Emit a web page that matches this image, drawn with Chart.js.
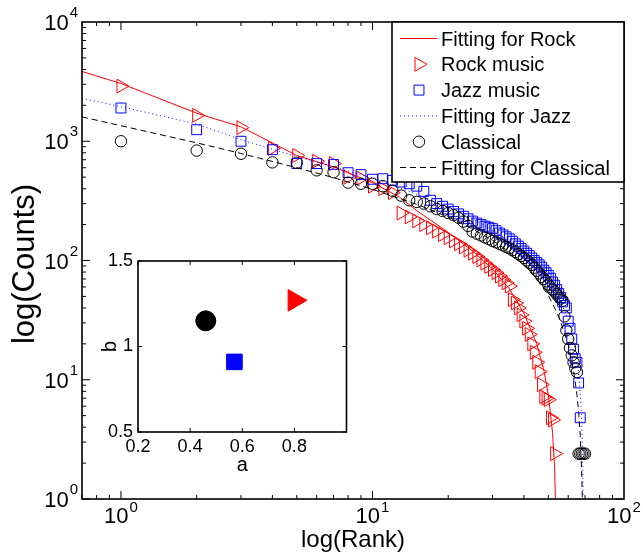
<!DOCTYPE html>
<html>
<head>
<meta charset="utf-8">
<script src="https://cdn.jsdelivr.net/npm/chart.js@4.4.1/dist/chart.umd.min.js"></script>
<style>
  html, body { margin: 0; padding: 0; background: #fff; }
  #wrap { position: relative; width: 643px; height: 556px; }
  #main { position: absolute; left: 0; top: 0; }
  #inset { position: absolute; left: 90px; top: 240px; }
</style>
</head>
<body>
<div id="wrap">
  <canvas id="main" width="643" height="556"></canvas>
  <canvas id="inset" width="270" height="240"></canvas>
</div>
<script>
// counts per rank (rank = position in the array, starting at 1)
const rockCounts = [2900, 1650, 1300, 870, 760, 680, 650, 500, 490, 420,
  400, 370, 250, 232, 215, 200, 188, 176, 165, 155,
  146, 138, 130, 122, 115, 108, 101, 95, 89, 84,
  79, 74, 69, 65, 61, 47, 44, 40, 35, 31,
  27, 24, 20, 17, 14, 11.7, 9.1, 7.2, 7.0, 6.8,
  4.8, 4.6, 2.4];
const jazzCounts = [1900, 1250, 1000, 850, 650, 650, 640, 545, 525, 480,
  485, 470, 455, 440, 420, 380, 320, 300, 285, 270,
  258, 246, 235, 224, 214, 206, 200, 194, 190, 185,
  178, 170, 164, 158, 152, 145, 138, 132, 126, 120,
  115, 110, 105, 100, 96, 92, 88, 83, 79, 75,
  71, 66, 62, 57, 53, 49, 45, 42, 40, 31,
  27, 22, 18, 15, 14, 9.4, 4.8];
const classicalCounts = [1000, 835, 785, 665, 660, 570, 550, 450, 440, 440,
  420, 385, 350, 320, 310, 300, 285, 270, 260, 250,
  240, 228, 212, 195, 175, 168, 162, 156, 151, 146,
  142, 138, 134, 130, 127, 122, 118, 113, 109, 105,
  100, 96, 92, 87, 82, 78, 73, 70, 67, 63,
  60, 57, 55, 52, 50, 48, 46, 34, 26, 22,
  18.5, 16, 14, 12.5, 11.6, 2.4, 2.4, 2.4, 2.4, 2.4];

// fitted curves
const rockFitRank = [0.7, 1, 2, 3, 5, 7, 10, 12.8, 15, 20, 25, 30, 35, 40, 45, 48, 50, 52, 53, 53.5];
const rockFitCounts = [3850, 3050, 1720, 1320, 760, 610, 450, 340, 262, 172, 120, 85, 58, 36, 20, 12, 7.5, 3.6, 1.8, 0.8];
const jazzFitRank = [0.7, 1, 2, 3, 5, 7, 10, 15, 20, 25, 30, 35, 40, 45, 50, 55, 60, 63, 65, 66, 67, 67.5, 68, 68.5, 68.8];
const jazzFitCounts = [2290, 1950, 1395, 1030, 745, 610, 492, 360, 279, 224, 180, 146, 117, 92, 70, 50, 32, 21.5, 14.6, 11.2, 7.7, 5.9, 4.1, 2.2, 0.9];
const classicalFitRank = [0.7, 1, 2, 3, 5, 7, 10, 15, 20, 25, 30, 35, 40, 45, 50, 55, 60, 63, 65, 66, 67, 68, 68.5];
const classicalFitCounts = [1600, 1350, 970, 790, 600, 495, 395, 296, 232, 184, 148, 118, 92, 70, 51, 34, 20, 12, 7.5, 5.4, 3.4, 1.5, 0.7];

// inset: fitted parameters a, b  (rock, jazz, classical)
const paramA = [0.8, 0.57, 0.46];
const paramB = [1.27, 0.91, 1.15];

const xTickExps = [0, 1, 2];
const yTickExps = [0, 1, 2, 3, 4];
const insetXTicks = [0.2, 0.4, 0.6, 0.8];
const insetYTicks = [0.5, 1, 1.5];

const FONT = '"Liberation Sans", Arial, Helvetica, sans-serif';
const RED = '#ff0000', BLUE = '#0000ff', BLACK = '#000000';

function ranked(counts) {
  return counts.map((c, i) => ({x: i + 1, y: c}));
}
function pairs(xs, ys) {
  return xs.map((x, i) => ({x: x, y: ys[i]}));
}

function markerPath(ctx, style, x, y, r) {
  ctx.beginPath();
  if (style === 'triangle') {
    ctx.moveTo(x + r, y);
    ctx.lineTo(x - r / 2, y - r * Math.sqrt(3) / 2);
    ctx.lineTo(x - r / 2, y + r * Math.sqrt(3) / 2);
    ctx.closePath();
  } else if (style === 'rect') {
    const s = r * Math.SQRT2;
    ctx.rect(x - s / 2, y - s / 2, s, s);
  } else {
    ctx.arc(x, y, r, 0, Math.PI * 2);
  }
}

function drawPow(ctx, x, base, exp, align, supUp) {
  ctx.font = '22px ' + FONT;
  const w10 = ctx.measureText('10').width;
  ctx.font = '15px ' + FONT;
  const we = ctx.measureText(String(exp)).width;
  const total = w10 + 1 + we;
  const left = align === 'right' ? x - total : x - total / 2;
  ctx.textAlign = 'left';
  ctx.textBaseline = 'alphabetic';
  ctx.font = '22px ' + FONT;
  ctx.fillText('10', left, base);
  ctx.font = '15px ' + FONT;
  ctx.fillText(String(exp), left + w10 + 1, base - supUp);
}

const mainFrame = {
  id: 'mainFrame',
  afterDraw(chart) {
    const ctx = chart.ctx;
    const a = chart.chartArea;
    const xs = chart.scales.x, ys = chart.scales.y;
    ctx.save();
    ctx.strokeStyle = BLACK;
    ctx.fillStyle = BLACK;
    ctx.lineWidth = 1;
    // minor + major ticks, inward, on all four sides
    for (let e = -1; e <= 1; e++) {
      for (let m = 1; m <= 9; m++) {
        const v = m * Math.pow(10, e);
        if (v < xs.min || v > xs.max) continue;
        const px = xs.getPixelForValue(v);
        const len = m === 1 ? 8 : 4;
        ctx.beginPath();
        ctx.moveTo(px, a.bottom); ctx.lineTo(px, a.bottom - len);
        ctx.moveTo(px, a.top); ctx.lineTo(px, a.top + len);
        ctx.stroke();
      }
    }
    for (let e = 0; e <= 3; e++) {
      for (let m = 1; m <= 9; m++) {
        const v = m * Math.pow(10, e);
        const py = ys.getPixelForValue(v);
        const len = m === 1 ? 8 : 4;
        ctx.beginPath();
        ctx.moveTo(a.left, py); ctx.lineTo(a.left + len, py);
        ctx.moveTo(a.right, py); ctx.lineTo(a.right - len, py);
        ctx.stroke();
      }
    }
    ctx.lineWidth = 1.6;
    ctx.strokeRect(a.left, a.top, a.right - a.left, a.bottom - a.top);

    // tick labels
    xTickExps.forEach(e => {
      drawPow(ctx, xs.getPixelForValue(Math.pow(10, e)), a.bottom + 24, e, 'center', 11);
    });
    yTickExps.forEach(e => {
      drawPow(ctx, a.left - 4, ys.getPixelForValue(Math.pow(10, e)) + 8, e, 'right', 13);
    });

    // axis titles
    ctx.textAlign = 'center';
    ctx.textBaseline = 'alphabetic';
    ctx.font = '24px ' + FONT;
    ctx.fillText('log(Rank)', (a.left + a.right) / 2, 547);
    ctx.save();
    ctx.translate(34, 264);
    ctx.rotate(-Math.PI / 2);
    ctx.font = '31px ' + FONT;
    ctx.fillText('log(Counts)', 0, 0);
    ctx.restore();

    // legend box
    const bx = 392, by = a.top, bw = a.right - 392, bh = 160;
    ctx.fillStyle = '#ffffff';
    ctx.fillRect(bx, by, bw, bh);
    ctx.lineWidth = 1.6;
    ctx.strokeStyle = BLACK;
    ctx.strokeRect(bx, by, bw, bh);
    chart.data.datasets.forEach((ds, i) => {
      const cy = 38.5 + i * 25.8;
      ctx.strokeStyle = ds.borderColor;
      ctx.lineWidth = 1;
      if (ds.showLine) {
        ctx.setLineDash(ds.borderDash || []);
        ctx.beginPath();
        ctx.moveTo(400, cy); ctx.lineTo(437, cy);
        ctx.stroke();
        ctx.setLineDash([]);
      } else {
        markerPath(ctx, ds.pointStyle, 419, cy, ds.pointRadius);
        ctx.stroke();
      }
      ctx.fillStyle = BLACK;
      ctx.font = '20px ' + FONT;
      ctx.textAlign = 'left';
      ctx.fillText(ds.label, 441, cy + 7);
    });
    ctx.restore();
  }
};

new Chart(document.getElementById('main'), {
  type: 'scatter',
  data: {
    datasets: [
      {label: 'Fitting for Rock', data: pairs(rockFitRank, rockFitCounts), showLine: true,
       borderColor: RED, borderWidth: 1, pointRadius: 0, tension: 0, order: 6},
      {label: 'Rock music', data: ranked(rockCounts), showLine: false, pointStyle: 'triangle',
       pointRotation: 90, pointRadius: 8, borderColor: RED, pointBorderColor: RED,
       pointBackgroundColor: 'rgba(0,0,0,0)', pointBorderWidth: 1, order: 5},
      {label: 'Jazz music', data: ranked(jazzCounts), showLine: false, pointStyle: 'rect',
       pointRadius: 7, borderColor: BLUE, pointBorderColor: BLUE,
       pointBackgroundColor: 'rgba(0,0,0,0)', pointBorderWidth: 1, order: 4},
      {label: 'Fitting for Jazz', data: pairs(jazzFitRank, jazzFitCounts), showLine: true,
       borderColor: BLUE, borderWidth: 1, borderDash: [1, 3], pointRadius: 0, tension: 0, order: 3},
      {label: 'Classical', data: ranked(classicalCounts), showLine: false, pointStyle: 'circle',
       pointRadius: 5.7, borderColor: BLACK, pointBorderColor: BLACK,
       pointBackgroundColor: 'rgba(0,0,0,0)', pointBorderWidth: 1, order: 2},
      {label: 'Fitting for Classical', data: pairs(classicalFitRank, classicalFitCounts), showLine: true,
       borderColor: BLACK, borderWidth: 1, borderDash: [6, 4], pointRadius: 0, tension: 0, order: 1}
    ]
  },
  options: {
    responsive: false,
    animation: false,
    layout: {padding: {left: 82, right: 19, top: 22, bottom: 57}},
    plugins: {legend: {display: false}, tooltip: {enabled: false}},
    scales: {
      x: {type: 'logarithmic', min: 0.7, max: 100, display: false},
      y: {type: 'logarithmic', min: 1, max: 10000, display: false}
    }
  },
  plugins: [mainFrame]
});

const insetFrame = {
  id: 'insetFrame',
  beforeDatasetsDraw(chart) {
    const ctx = chart.ctx, a = chart.chartArea;
    ctx.save();
    ctx.fillStyle = '#ffffff';
    ctx.fillRect(a.left, a.top, a.right - a.left, a.bottom - a.top);
    ctx.restore();
  },
  afterDraw(chart) {
    const ctx = chart.ctx, a = chart.chartArea;
    const xs = chart.scales.x, ys = chart.scales.y;
    ctx.save();
    ctx.strokeStyle = BLACK;
    ctx.fillStyle = BLACK;
    ctx.lineWidth = 1;
    insetXTicks.forEach(v => {
      const px = xs.getPixelForValue(v);
      ctx.beginPath();
      ctx.moveTo(px, a.bottom); ctx.lineTo(px, a.bottom - 4);
      ctx.moveTo(px, a.top); ctx.lineTo(px, a.top + 4);
      ctx.stroke();
    });
    insetYTicks.forEach(v => {
      const py = ys.getPixelForValue(v);
      ctx.beginPath();
      ctx.moveTo(a.left, py); ctx.lineTo(a.left + 4, py);
      ctx.moveTo(a.right, py); ctx.lineTo(a.right - 4, py);
      ctx.stroke();
    });
    ctx.lineWidth = 1.6;
    ctx.strokeRect(a.left, a.top, a.right - a.left, a.bottom - a.top);

    ctx.font = '18px ' + FONT;
    ctx.textAlign = 'center';
    ctx.textBaseline = 'alphabetic';
    insetXTicks.forEach(v => {
      ctx.fillText(String(v), xs.getPixelForValue(v), a.bottom + 20);
    });
    ctx.textAlign = 'right';
    ctx.textBaseline = 'middle';
    insetYTicks.forEach(v => {
      ctx.fillText(String(v), a.left - 5, ys.getPixelForValue(v));
    });
    ctx.textAlign = 'center';
    ctx.textBaseline = 'alphabetic';
    ctx.font = '20px ' + FONT;
    ctx.fillText('a', (a.left + a.right) / 2, 231);
    ctx.save();
    ctx.translate(26, (a.top + a.bottom) / 2);
    ctx.rotate(-Math.PI / 2);
    ctx.fillText('b', 0, 0);
    ctx.restore();
    ctx.restore();
  }
};

new Chart(document.getElementById('inset'), {
  type: 'scatter',
  data: {
    datasets: [
      {label: 'Rock', data: [{x: paramA[0], y: paramB[0]}], pointStyle: 'triangle', pointRotation: 90,
       pointRadius: 12.5, pointBackgroundColor: RED, pointBorderColor: RED},
      {label: 'Jazz', data: [{x: paramA[1], y: paramB[1]}], pointStyle: 'rect',
       pointRadius: 11, pointBackgroundColor: BLUE, pointBorderColor: BLUE},
      {label: 'Classical', data: [{x: paramA[2], y: paramB[2]}], pointStyle: 'circle',
       pointRadius: 10, pointBackgroundColor: BLACK, pointBorderColor: BLACK}
    ]
  },
  options: {
    responsive: false,
    animation: false,
    layout: {padding: {left: 48, right: 13, top: 21, bottom: 48}},
    plugins: {legend: {display: false}, tooltip: {enabled: false}},
    scales: {
      x: {type: 'linear', min: 0.2, max: 1, display: false},
      y: {type: 'linear', min: 0.5, max: 1.5, display: false}
    }
  },
  plugins: [insetFrame]
});
</script>
</body>
</html>
